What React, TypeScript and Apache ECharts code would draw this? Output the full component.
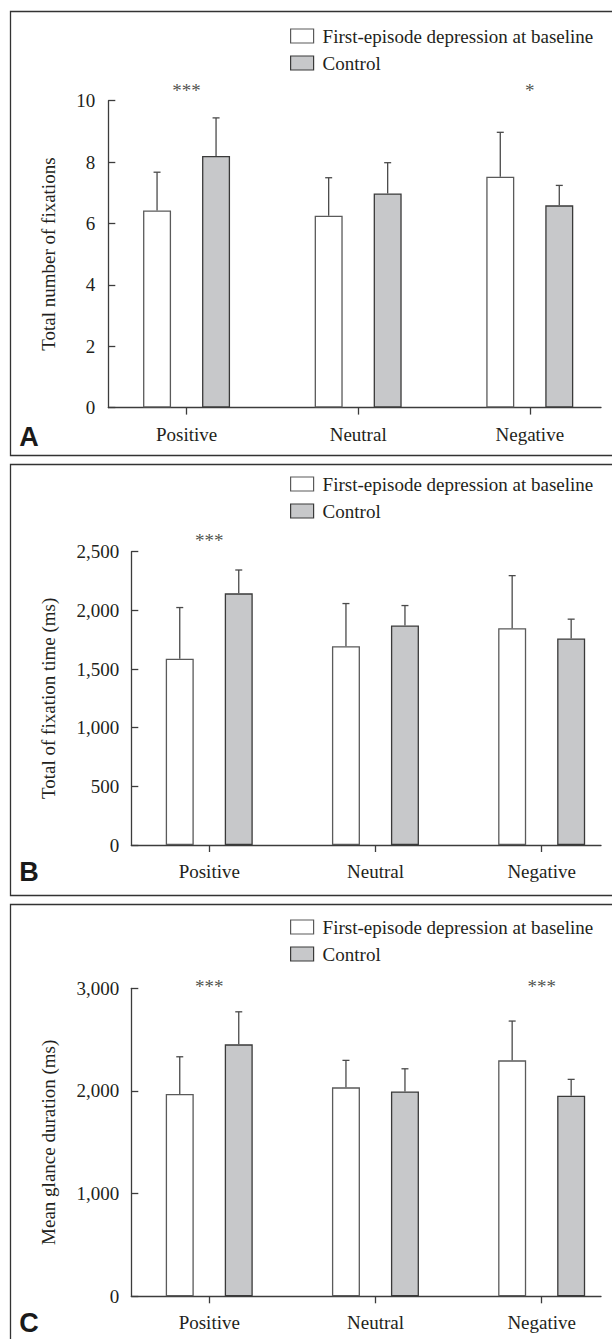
import React, { useEffect, useRef } from "react";
import * as echarts from "echarts";

// ---------- data ----------
const CATEGORIES = ["Positive", "Neutral", "Negative"];
const SERIES_NAMES = ["First-episode depression at baseline", "Control"];

// Panel A: total number of fixations
const A_FED_MEAN = [6.42, 6.25, 7.52];
const A_FED_SD = [1.25, 1.24, 1.45];
const A_CTRL_MEAN = [8.2, 6.98, 6.59];
const A_CTRL_SD = [1.24, 1.0, 0.65];
const A_SIG = ["***", "", "*"];
const A_Y_TICKS = [0, 2, 4, 6, 8, 10];

// Panel B: total of fixation time (ms)
const B_FED_MEAN = [1587, 1695, 1848];
const B_FED_SD = [437, 363, 448];
const B_CTRL_MEAN = [2145, 1871, 1760];
const B_CTRL_SD = [199, 170, 165];
const B_SIG = ["***", "", ""];
const B_Y_TICKS = [0, 500, 1000, 1500, 2000, 2500];

// Panel C: mean glance duration (ms)
const C_FED_MEAN = [1970, 2035, 2298];
const C_FED_SD = [363, 263, 383];
const C_CTRL_MEAN = [2454, 1996, 1953];
const C_CTRL_SD = [317, 220, 160];
const C_SIG = ["***", "", "***"];
const C_Y_TICKS = [0, 1000, 2000, 3000];

// ---------- styles ----------
const FONT = "'Liberation Serif', 'Times New Roman', serif";
const TEXT = "#231f20";
const AXIS = "#3c3c3c";
const ERR = "#4a4a4a";
const WHITE_FILL = "#ffffff";
const WHITE_BORDER = "#5a5a5a";
const GRAY_FILL = "#c7c8ca";
const GRAY_BORDER = "#3a3a3a";
const BAR_W = 28;
const BAR_GAP_PX = 31;
const CAP = 7;

const PANELS = [
  {
    letter: "A",
    yName: "Total number of fixations",
    fed: A_FED_MEAN, fedSd: A_FED_SD, ctrl: A_CTRL_MEAN, ctrlSd: A_CTRL_SD,
    sig: A_SIG, ticks: A_Y_TICKS,
    grid: { left: 108.3, top: 100.7, width: 492.7, height: 306.9 },
    xMin: -0.456, xMax: 2.415,
    labelMargin: 13, nameGap: 50,
    legendTop: 21.5, starOffset: -10,
    box: { y: 11.5, h: 444 }, letterY: 437,
  },
  {
    letter: "B",
    yName: "Total of fixation time (ms)",
    fed: B_FED_MEAN, fedSd: B_FED_SD, ctrl: B_CTRL_MEAN, ctrlSd: B_CTRL_SD,
    sig: B_SIG, ticks: B_Y_TICKS,
    grid: { left: 131.3, top: 551.7, width: 469.7, height: 293.3 },
    xMin: -0.469, xMax: 2.357,
    labelMargin: 12, nameGap: 73,
    legendTop: 469.5, starOffset: -11,
    box: { y: 464.5, h: 431 }, letterY: 872,
  },
  {
    letter: "C",
    yName: "Mean glance duration (ms)",
    fed: C_FED_MEAN, fedSd: C_FED_SD, ctrl: C_CTRL_MEAN, ctrlSd: C_CTRL_SD,
    sig: C_SIG, ticks: C_Y_TICKS,
    grid: { left: 131.3, top: 988.3, width: 469.7, height: 308 },
    xMin: -0.469, xMax: 2.357,
    labelMargin: 12, nameGap: 73,
    legendTop: 912.5, starOffset: -2,
    box: { y: 904.5, h: 460 }, letterY: 1323,
  },
];

const fmt = (v: number) => v.toLocaleString("en-US");

function buildOption() {
  const grid: any[] = [];
  const xAxis: any[] = [];
  const yAxis: any[] = [];
  const legend: any[] = [];
  const series: any[] = [];
  const graphic: any[] = [];

  PANELS.forEach((p, g) => {
    const yMax = p.ticks[p.ticks.length - 1];
    grid.push({ ...p.grid, containLabel: false, outerBoundsMode: "none" });
    xAxis.push({
      type: "value",
      gridIndex: g,
      min: p.xMin,
      max: p.xMax,
      axisLine: { show: true, onZero: false, lineStyle: { color: AXIS, width: 1.3 } },
      axisTick: { show: true, customValues: [0, 1, 2], length: 7, lineStyle: { color: AXIS, width: 1.3 } },
      axisLabel: {
        customValues: [0, 1, 2],
        formatter: (v: number) => CATEGORIES[Math.round(v)] ?? "",
        fontSize: 19, color: TEXT, fontFamily: FONT, margin: 17,
      },
      splitLine: { show: false },
    });
    yAxis.push({
      type: "value",
      gridIndex: g,
      min: 0,
      max: yMax,
      interval: p.ticks[1] - p.ticks[0],
      axisLine: { show: true, onZero: false, lineStyle: { color: AXIS, width: 1.3 } },
      axisTick: { show: true, inside: true, length: 7, lineStyle: { color: AXIS, width: 1.3 } },
      axisLabel: { fontSize: 19, color: TEXT, fontFamily: FONT, margin: p.labelMargin, formatter: fmt },
      splitLine: { show: false },
      name: p.yName,
      nameLocation: "middle",
      nameGap: p.nameGap,
      nameTextStyle: { fontSize: 19, color: TEXT, fontFamily: FONT },
    });
    legend.push({
      orient: "vertical",
      left: 285,
      top: p.legendTop,
      itemWidth: 23,
      itemHeight: 14,
      itemGap: 8,
      icon: "rect",
      selectedMode: false,
      textStyle: { fontSize: 19, color: TEXT, fontFamily: FONT, padding: [0, 0, 0, 4] },
      data: [
        { name: SERIES_NAMES[0], itemStyle: { color: WHITE_FILL, borderColor: WHITE_BORDER, borderWidth: 1.2 } },
        { name: SERIES_NAMES[1], itemStyle: { color: GRAY_FILL, borderColor: GRAY_BORDER, borderWidth: 1.2 } },
      ],
    });

    series.push({
      type: "bar", name: SERIES_NAMES[0], xAxisIndex: g, yAxisIndex: g,
      data: p.fed.map((m, i) => [i, m]),
      barWidth: BAR_W, barGap: ((BAR_GAP_PX / BAR_W) * 100).toFixed(1) + "%",
      itemStyle: { color: WHITE_FILL, borderColor: WHITE_BORDER, borderWidth: 1.3 },
      z: 2,
    });
    series.push({
      type: "bar", name: SERIES_NAMES[1], xAxisIndex: g, yAxisIndex: g,
      data: p.ctrl.map((m, i) => [i, m]),
      barWidth: BAR_W, barGap: ((BAR_GAP_PX / BAR_W) * 100).toFixed(1) + "%",
      itemStyle: { color: GRAY_FILL, borderColor: GRAY_BORDER, borderWidth: 1.3 },
      z: 2,
    });
    const errSeries = (means: number[], sds: number[], sign: number) => ({
      type: "custom", name: "err", xAxisIndex: g, yAxisIndex: g, z: 5, silent: true,
      data: means.map((m, i) => [i, m, m + sds[i]]),
      encode: { x: 0, y: [1, 2] },
      renderItem: (_params: any, api: any) => {
        const base = api.coord([api.value(0), api.value(1)]);
        const top = api.coord([api.value(0), api.value(2)]);
        const x = base[0] + (sign * (BAR_W + BAR_GAP_PX)) / 2;
        return {
          type: "group",
          children: [
            { type: "line", shape: { x1: x, y1: base[1], x2: x, y2: top[1] }, style: { stroke: ERR, lineWidth: 1.3 } },
            { type: "line", shape: { x1: x - CAP / 2, y1: top[1], x2: x + CAP / 2, y2: top[1] }, style: { stroke: ERR, lineWidth: 1.3 } },
          ],
        };
      },
    });
    series.push(errSeries(p.fed, p.fedSd, -1));
    series.push(errSeries(p.ctrl, p.ctrlSd, 1));
    series.push({
      type: "scatter", name: "sig", xAxisIndex: g, yAxisIndex: g, silent: true, clip: false,
      symbolSize: 0,
      data: p.sig
        .map((s, i) => ({ s, i }))
        .filter((d) => d.s)
        .map((d) => ({
          value: [d.i, yMax],
          label: { show: true, formatter: d.s },
        })),
      label: {
        show: true, position: "inside", offset: [0, p.starOffset],
        fontSize: 19, color: TEXT, fontFamily: FONT,
      },
    });

    graphic.push({
      type: "rect", silent: true,
      shape: { x: 10.5, y: p.box.y, width: 620, height: p.box.h },
      style: { fill: "none", stroke: "#333", lineWidth: 1.3 },
    });
    graphic.push({
      type: "text", silent: true, x: 29, y: p.letterY,
      style: {
        text: p.letter, fontSize: 27, fontWeight: "bold",
        fontFamily: "'Liberation Sans', Arial, sans-serif",
        fill: "#1a1a1a", align: "center", verticalAlign: "middle",
      },
    });
  });

  return {
    animation: false,
    backgroundColor: "#ffffff",
    textStyle: { fontFamily: FONT },
    grid, xAxis, yAxis, legend, series, graphic,
  };
}

export default function App() {
  const ref = useRef<HTMLDivElement>(null);
  useEffect(() => {
    if (!ref.current) return;
    const chart = echarts.init(ref.current, undefined, { renderer: "svg" });
    chart.setOption(buildOption() as any);
    return () => chart.dispose();
  }, []);
  return (
    <div
      ref={ref}
      style={{ position: "absolute", left: 0, top: 0, width: 612, height: 1339 }}
    />
  );
}
